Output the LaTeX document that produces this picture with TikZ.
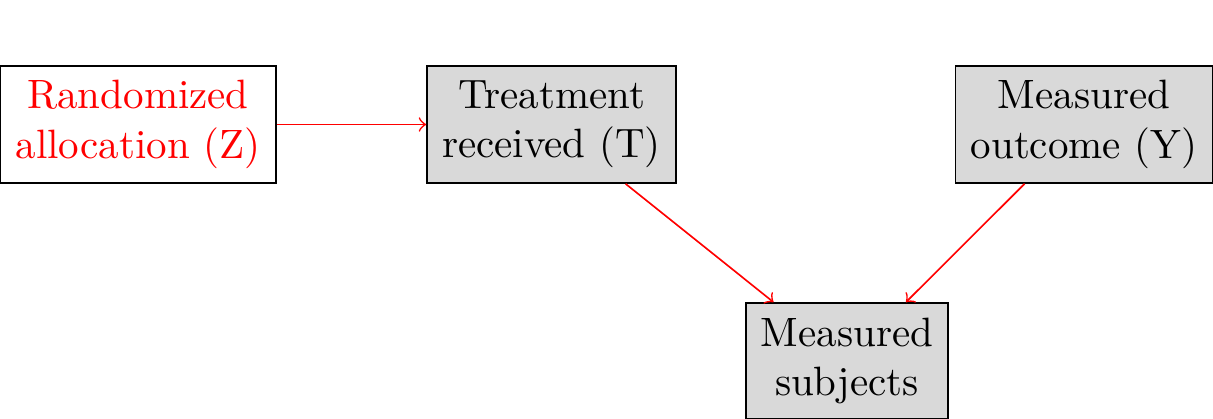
\documentclass[tikz,border=0pt]{standalone}
\usetikzlibrary{arrows}
\definecolor{boxgray}{RGB}{217,217,217}
\begin{document}
\begin{tikzpicture}[x=0.2439pt,y=-0.2439pt,
  box/.style={draw=black,line width=0.4pt,align=center,inner sep=0pt,font=\normalsize},
  edge/.style={draw=red,->,line width=0.4pt}]
\useasboundingbox (0,0) rectangle (1213,419);
\node[box,fill=white,text=red,minimum width=276*0.2439pt,minimum height=117*0.2439pt] (Z) at (138,124.5) {Randomized\\allocation (Z)};
\node[box,fill=boxgray,minimum width=249*0.2439pt,minimum height=117*0.2439pt] (T) at (551.5,124.5) {Treatment\\received (T)};
\node[box,fill=boxgray,minimum width=257*0.2439pt,minimum height=117*0.2439pt] (Y) at (1084,124.5) {Measured\\outcome (Y)};
\node[box,fill=boxgray,minimum width=202*0.2439pt,minimum height=116*0.2439pt] (S) at (847,361) {Measured\\subjects};
\draw[edge] (Z) -- (T);
\draw[edge] (T) -- (S);
\draw[edge] (Y) -- (S);
\end{tikzpicture}
\end{document}
